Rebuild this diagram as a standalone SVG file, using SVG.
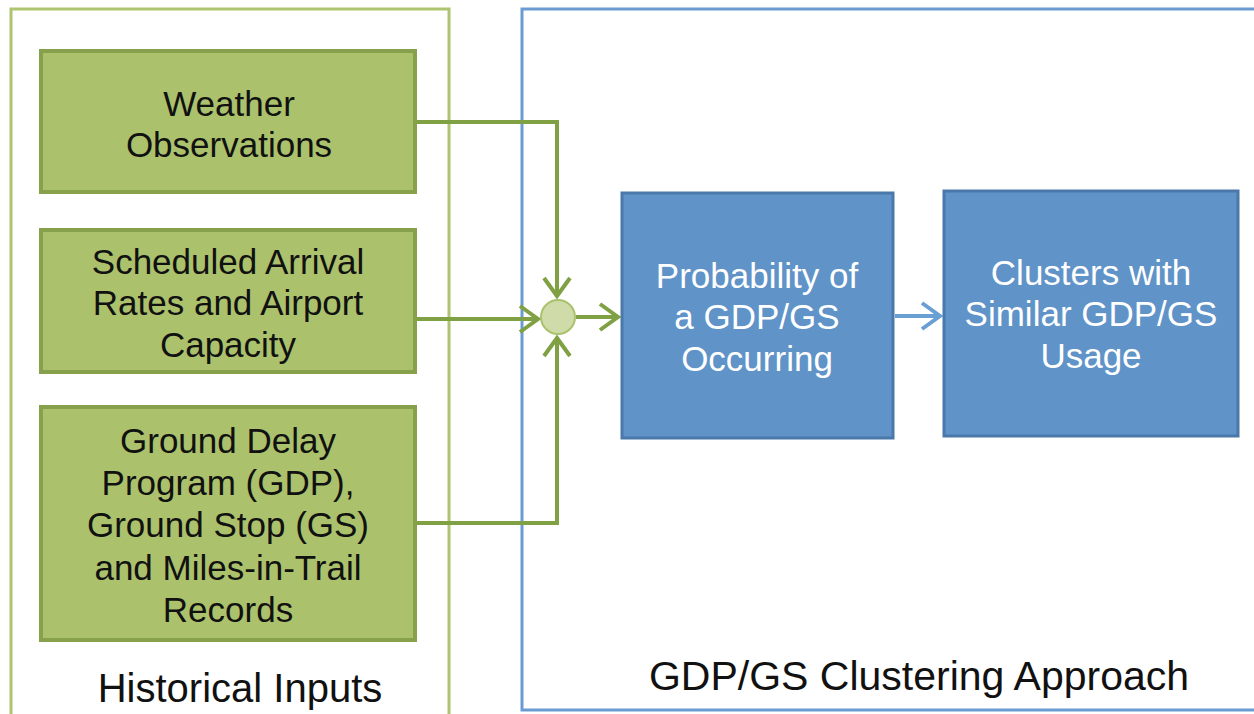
<svg xmlns="http://www.w3.org/2000/svg" width="1254" height="714" viewBox="0 0 1254 714">
<defs>
<style>
.frameG{fill:none;stroke:#adc56f;stroke-width:3}
.frameB{fill:none;stroke:#6a9bd2;stroke-width:3}
.gbox{fill:#abc16c;stroke:#87a04b;stroke-width:4}
.bbox{fill:#6093c8;stroke:#4a78aa;stroke-width:3}
.gtxt{font-family:"Liberation Sans",Arial,sans-serif;font-size:35px;fill:#111;text-anchor:middle}
.btxt{font-family:"Liberation Sans",Arial,sans-serif;font-size:35px;fill:#fff;text-anchor:middle}
.ltxt{font-family:"Liberation Sans",Arial,sans-serif;font-size:40px;fill:#111;text-anchor:middle}
.gcon{fill:none;stroke:#7fa043;stroke-width:4}
.bcon{fill:none;stroke:#6a9fd4;stroke-width:4}
</style>
<marker id="ag" markerWidth="8" markerHeight="10" refX="6" refY="5" orient="auto" markerUnits="userSpaceOnUse" viewBox="0 0 8 10" overflow="visible">
<path d="M-12,-8 L6,5 L-12,18" fill="none" stroke="#7fa043" stroke-width="4" stroke-linejoin="miter"/>
</marker>
<marker id="ab" markerWidth="8" markerHeight="10" refX="6" refY="5" orient="auto" markerUnits="userSpaceOnUse" viewBox="0 0 8 10" overflow="visible">
<path d="M-12,-8 L6,5 L-12,18" fill="none" stroke="#6a9fd4" stroke-width="4"/>
</marker>
</defs>
<rect width="1254" height="714" fill="#fff"/>
<g id="frame-historical">
<rect class="frameG" x="11" y="9" width="438" height="720"/>
<text class="ltxt" x="240" y="702">Historical Inputs</text>
</g>
<g id="frame-clustering">
<rect class="frameB" x="522" y="9" width="750" height="701"/>
<text class="ltxt" x="919" y="690" style="font-size:41px">GDP/GS Clustering Approach</text>
</g>
<g id="connectors">
<polyline class="gcon" points="415,122 557,122 557,296" marker-end="url(#ag)"/>
<polyline class="gcon" points="415,319 538,319" marker-end="url(#ag)"/>
<polyline class="gcon" points="415,523 557,523 557,338" marker-end="url(#ag)"/>
<polyline class="gcon" points="576,317 618,317" marker-end="url(#ag)"/>
<polyline class="bcon" points="895,316 940,316" marker-end="url(#ab)"/>
</g>
<g id="junction">
<circle cx="558" cy="317" r="17" fill="#cfdcaa" stroke="#a9c26c" stroke-width="2"/>
</g>
<g id="weather">
<rect class="gbox" x="41" y="51" width="374" height="141"/>
<text class="gtxt" x="229" y="116">Weather</text>
<text class="gtxt" x="229" y="157">Observations</text>
</g>
<g id="scheduled">
<rect class="gbox" x="41" y="230" width="374" height="142"/>
<text class="gtxt" x="228" y="274">Scheduled Arrival</text>
<text class="gtxt" x="228" y="315">Rates and Airport</text>
<text class="gtxt" x="228" y="357">Capacity</text>
</g>
<g id="gdp-records">
<rect class="gbox" x="41" y="407" width="374" height="233"/>
<text class="gtxt" x="228" y="453">Ground Delay</text>
<text class="gtxt" x="228" y="495">Program (GDP),</text>
<text class="gtxt" x="228" y="537">Ground Stop (GS)</text>
<text class="gtxt" x="228" y="580">and Miles-in-Trail</text>
<text class="gtxt" x="228" y="622">Records</text>
</g>
<g id="probability">
<rect class="bbox" x="622" y="193" width="271" height="245"/>
<text class="btxt" x="757" y="288">Probability of</text>
<text class="btxt" x="757" y="329">a GDP/GS</text>
<text class="btxt" x="757" y="371">Occurring</text>
</g>
<g id="clusters">
<rect class="bbox" x="944" y="191" width="294" height="245"/>
<text class="btxt" x="1091" y="285">Clusters with</text>
<text class="btxt" x="1091" y="326">Similar GDP/GS</text>
<text class="btxt" x="1091" y="368">Usage</text>
</g>
</svg>
